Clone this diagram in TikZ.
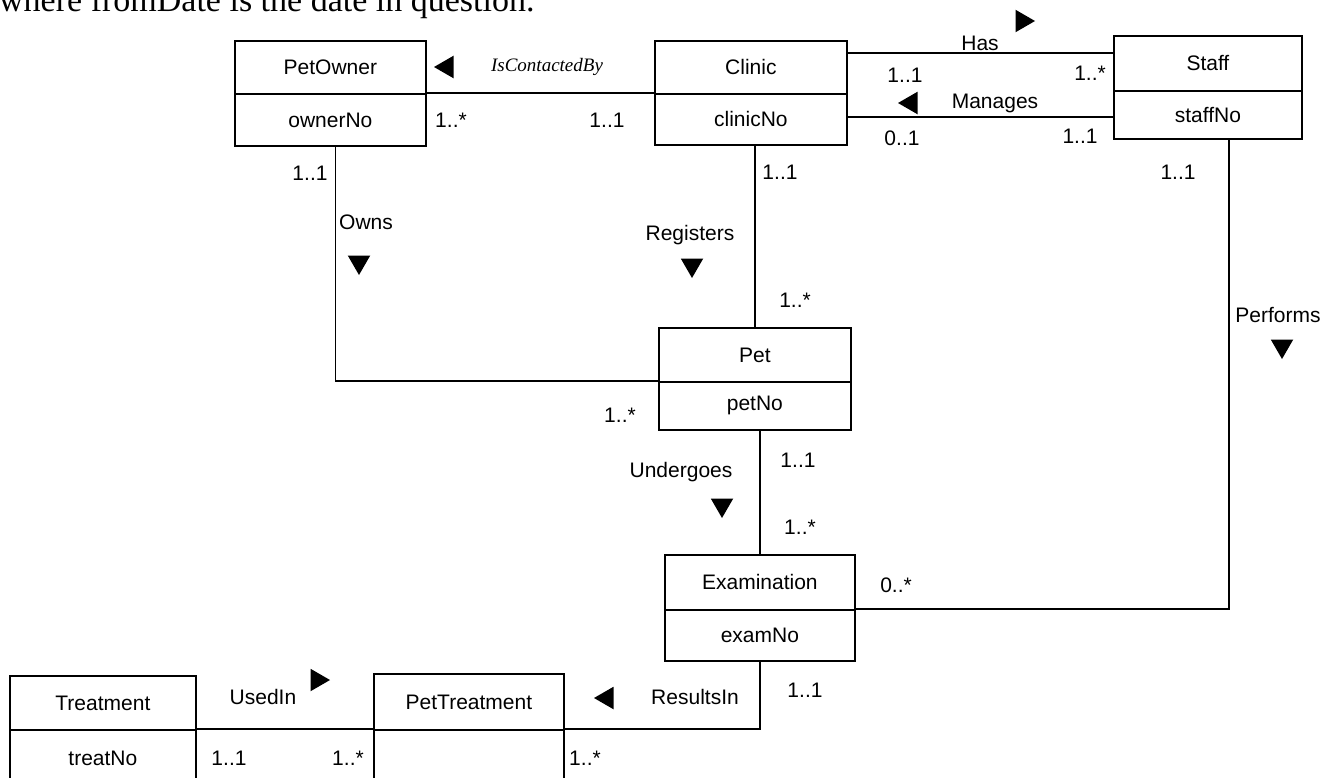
\documentclass[tikz,border=0pt]{standalone}
\usepackage{fontspec}
\setmainfont{Liberation Sans}
\newfontfamily\tnr{Liberation Serif}
\usetikzlibrary{shapes.geometric}
\tikzset{
  box/.style={draw, line width=1.8pt, inner sep=0pt, anchor=north west, font=\fontsize{21}{25}\selectfont},
  lbl/.style={inner sep=0pt, font=\fontsize{21}{25}\selectfont},
  tri/.style={regular polygon, regular polygon sides=3, fill=black, inner sep=0pt, minimum size=26pt},
  conn/.style={line width=1.8pt},
}
\begin{document}
\begin{tikzpicture}[x=1pt,y=-1pt]
\useasboundingbox (0,0) rectangle (1333,777);
\clip (0,0) rectangle (1333,777);

% heading fragment
\node[inner sep=0pt, anchor=base west, font=\tnr\fontsize{34}{40}\selectfont] (head) at (-1,11) {where fromDate is the date in question.};

% classes
\node[box, minimum width=191pt, minimum height=53pt] (po) at (234,40) {PetOwner};
\node[box, minimum width=191pt, minimum height=52pt] (poa) at (234,93) {ownerNo};
\node[box, minimum width=192pt, minimum height=53pt] (cl) at (654,40) {Clinic};
\node[box, minimum width=192pt, minimum height=51pt] (cla) at (654,93) {clinicNo};
\node[box, minimum width=188pt, minimum height=55pt] (st) at (1113,35) {Staff};
\node[box, minimum width=188pt, minimum height=48pt] (sta) at (1113,90) {staffNo};
\node[box, minimum width=192pt, minimum height=54pt] (pet) at (658,327) {Pet};
\node[box, minimum width=192pt, minimum height=48pt] (peta) at (658,381) {petNo};
\node[box, minimum width=190pt, minimum height=55pt] (ex) at (664,554) {Examination};
\node[box, minimum width=190pt, minimum height=51pt] (exa) at (664,609) {examNo};
\node[box, minimum width=186pt, minimum height=54pt] (tr) at (9,675) {Treatment};
\node[box, minimum width=186pt, minimum height=57pt] (tra) at (9,729) {treatNo};
\node[box, minimum width=190pt, minimum height=56pt] (pt) at (373,673) {PetTreatment};
\node[box, minimum width=190pt, minimum height=57pt] (pta) at (373,729) {};

% connectors
\coordinate (hasy) at (0,53);
\coordinate (many) at (0,117);
\draw[conn] (poa.north east) -- (cla.north west);
\draw[conn] (cl.east |- hasy) -- (st.west |- hasy);
\draw[conn] (cla.east |- many) -- (sta.west |- many);
\draw[conn] (pet.north |- cla.south) -- (pet.north);
\draw[conn] ([xshift=5pt]poa.south) |- (peta.north west);
\draw[conn] (ex.north |- peta.south) -- (ex.north);
\draw[conn] (exa.north east) -| ([xshift=21pt]sta.south);
\draw[conn] (exa.south) |- (pta.north east);
\draw[conn] (tra.north east) -- (pta.north west);

% IsContactedBy
\node[tri, shape border rotate=90] (t1) at (447,67) {};
\node[inner sep=0pt, font=\tnr\itshape\fontsize{19}{23}\selectfont] (l1) at (547,67) {IsContactedBy};
\node[lbl] (m1) at (451,120) {1..*};
\node[lbl] (m2) at (607,120) {1..1};
% Has
\node[lbl] (l2) at (980,43) {Has};
\node[tri, shape border rotate=-90] (t2) at (1022,21) {};
\node[lbl] (m3) at (905,75) {1..1};
\node[lbl] (m4) at (1090,73) {1..*};
% Manages
\node[tri, shape border rotate=90] (t3) at (911,103) {};
\node[lbl] (l3) at (995,103) {Manages};
\node[lbl] (m5) at (902,138) {0..1};
\node[lbl] (m6) at (1080,136) {1..1};
% Registers
\node[lbl] (m7) at (780,172) {1..1};
\node[lbl] (l4) at (690,235) {Registers};
\node[tri, shape border rotate=180] (t4) at (692,265) {};
\node[lbl] (m8) at (795,300) {1..*};
% Owns
\node[lbl] (m9) at (310,173) {1..1};
\node[lbl] (l5) at (366,222) {Owns};
\node[tri, shape border rotate=180] (t5) at (359,262) {};
\node[lbl] (m10) at (620,415) {1..*};
% Performs
\node[lbl] (m11) at (1178,172) {1..1};
\node[lbl] (l6) at (1278,315) {Performs};
\node[tri, shape border rotate=180] (t6) at (1282,346) {};
\node[lbl] (m12) at (896,585) {0..*};
% Undergoes
\node[lbl] (m13) at (798,460) {1..1};
\node[lbl] (l7) at (681,472) {Undergoes};
\node[tri, shape border rotate=180] (t7) at (722,505) {};
\node[lbl] (m14) at (800,527) {1..*};
% ResultsIn
\node[tri, shape border rotate=90] (t8) at (607,698) {};
\node[lbl] (l8) at (695,697) {ResultsIn};
\node[lbl] (m15) at (805,690) {1..1};
\node[lbl] (m16) at (585,758) {1..*};
% UsedIn
\node[lbl] (l9) at (263,697) {UsedIn};
\node[tri, shape border rotate=-90] (t9) at (317,680) {};
\node[lbl] (m17) at (229,758) {1..1};
\node[lbl] (m18) at (348,758) {1..*};
\end{tikzpicture}
\end{document}
